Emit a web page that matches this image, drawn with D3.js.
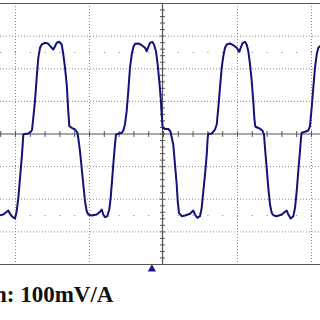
<!DOCTYPE html>
<html>
<head>
<meta charset="utf-8">
<script src="https://cdn.jsdelivr.net/npm/d3@7"></script>
<style>
  html, body { margin: 0; padding: 0; background: #fff; }
  svg { display: block; }
</style>
</head>
<body>
<svg id="scope"></svg>
<script>
// trace, in graticule divisions (0,0 = screen centre)
let timeDiv = [
  -2.203, -2.158, -2.112, -2.091, -2.068, -2.031, -2.000, -1.977, -1.955, -1.932,
  -1.909, -1.896, -1.888, -1.865, -1.820, -1.788, -1.770, -1.753, -1.730, -1.707,
  -1.685, -1.662, -1.639, -1.595, -1.550, -1.504, -1.482, -1.459, -1.436, -1.401,
  -1.369, -1.347, -1.324, -1.301, -1.280, -1.266, -1.234, -1.189, -1.158, -1.145,
  -1.122, -1.099, -1.077, -1.054, -1.031, -1.009, -0.964, -0.896, -0.851, -0.828,
  -0.807, -0.784, -0.753, -0.726, -0.707, -0.689, -0.672, -0.649, -0.635, -0.604,
  -0.558, -0.536, -0.514, -0.491, -0.469, -0.446, -0.423, -0.401, -0.378, -0.334,
  -0.288, -0.243, -0.220, -0.199, -0.176, -0.145, -0.122, -0.095, -0.072, -0.050,
  -0.031, -0.018, -0.004, 0.027, 0.072, 0.101, 0.118, 0.139, 0.162, 0.185,
  0.199, 0.216, 0.253, 0.297, 0.365, 0.409, 0.432, 0.464, 0.500, 0.523,
  0.545, 0.568, 0.591, 0.604, 0.612, 0.658, 0.676, 0.703, 0.726, 0.747,
  0.770, 0.793, 0.815, 0.838, 0.861, 0.905, 0.950, 0.996, 1.031, 1.050,
  1.077, 1.108, 1.131, 1.153, 1.176, 1.199, 1.220, 1.234, 1.247, 1.288,
  1.324, 1.347, 1.365, 1.378, 1.401, 1.423, 1.446, 1.469, 1.491, 1.536,
  1.604, 1.649, 1.672, 1.693, 1.726, 1.761, 1.784, 1.807, 1.828, 1.851,
  1.865, 1.874, 1.919, 1.964, 1.986, 2.009, 2.031, 2.054, 2.077, 2.099,
  2.122, 2.160
];
let ampDiv = [
  -2.504, -2.483, -2.400, -2.360, -2.461, -2.566, -2.605, -2.382, -1.971, -1.358,
  -0.745, -0.337, -0.031, -0.015, 0.000, 0.052, 0.107, 0.481, 0.990, 1.707,
  2.320, 2.627, 2.728, 2.780, 2.749, 2.627, 2.575, 2.676, 2.780, 2.811,
  2.728, 2.421, 2.014, 1.502, 0.684, 0.224, 0.175, 0.123, 0.031, -0.132,
  -0.543, -1.051, -1.563, -2.075, -2.382, -2.483, -2.513, -2.483, -2.400, -2.329,
  -2.483, -2.566, -2.535, -2.329, -1.971, -1.462, -0.950, -0.337, -0.031, -0.009,
  0.021, 0.092, 0.276, 0.684, 1.297, 2.014, 2.421, 2.645, 2.749, 2.759,
  2.706, 2.627, 2.523, 2.645, 2.780, 2.811, 2.728, 2.523, 2.115, 1.603,
  1.094, 0.582, 0.175, 0.138, 0.138, 0.061, -0.123, -0.337, -0.950, -1.563,
  -2.075, -2.431, -2.535, -2.513, -2.461, -2.360, -2.483, -2.584, -2.535, -2.277,
  -1.769, -1.257, -0.644, -0.132, -0.009, 0.000, 0.046, 0.123, 0.276, 0.788,
  1.401, 2.014, 2.369, 2.627, 2.728, 2.759, 2.706, 2.627, 2.504, 2.627,
  2.780, 2.811, 2.728, 2.523, 2.115, 1.603, 0.990, 0.481, 0.215, 0.169,
  0.123, 0.077, -0.031, -0.438, -1.051, -1.664, -2.176, -2.431, -2.504, -2.535,
  -2.483, -2.400, -2.360, -2.483, -2.605, -2.535, -2.277, -1.769, -1.156, -0.543,
  -0.132, 0.021, 0.052, 0.092, 0.224, 0.788, 1.401, 2.014, 2.421, 2.627,
  2.676, 2.730
];

// graticule
let xGridDivs = [-2, -1, 1, 2];
let yGridDivs = [-3, -2, -1, 1, 2, 3];
let dotRowDivs = [-2.5, 2.5];
let triggerDiv = -0.15;
let scaleLabel = "n: 100mV/A";

let width = 320;
let height = 320;

let svg = d3.select("#scope")
    .attr("width", width)
    .attr("height", height);

// screen: 4 divisions from x=15 to x=311, 8 divisions from y=264 to y=3
let x = d3.scaleLinear().domain([-2, 2]).range([15, 311]);
let y = d3.scaleLinear().domain([-4, 4]).range([264, 3]);

let gridColor = "#8c8c8c";
let axisColor = "#555";

// minor tick positions (5 per division)
let xMinor = d3.range(-11, 12).map(d => d / 5);
let yMinor = d3.range(-20, 21).map(d => d / 5);

// dotted grid lines
svg.append("g").selectAll("line")
    .data(xGridDivs)
    .enter().append("line")
        .attr("x1", d => x(d) + 0.5).attr("x2", d => x(d) + 0.5)
        .attr("y1", y(4)).attr("y2", y(-4))
        .attr("stroke", gridColor)
        .attr("stroke-width", 1)
        .attr("stroke-dasharray", "1,2");

svg.append("g").selectAll("line")
    .data(yGridDivs)
    .enter().append("line")
        .attr("x1", 0).attr("x2", width)
        .attr("y1", d => y(d) + 0.5).attr("y2", d => y(d) + 0.5)
        .attr("stroke", gridColor)
        .attr("stroke-width", 1)
        .attr("stroke-dasharray", "1,2");

// rows of single dots at the minor ticks
dotRowDivs.forEach(row => {
    svg.append("g").selectAll("rect")
        .data(xMinor)
        .enter().append("rect")
            .attr("x", d => x(d))
            .attr("y", y(row))
            .attr("width", 1)
            .attr("height", 1)
            .attr("fill", "#777");
});

// frame top and bottom
[4, -4].forEach(v => {
    svg.append("line")
        .attr("x1", 0).attr("x2", width)
        .attr("y1", y(v) + 0.5).attr("y2", y(v) + 0.5)
        .attr("stroke", axisColor)
        .attr("stroke-width", 1.2);
});

// centre axes with minor ticks
svg.append("line")
    .attr("x1", 0).attr("x2", width)
    .attr("y1", y(0) + 0.5).attr("y2", y(0) + 0.5)
    .attr("stroke", axisColor)
    .attr("stroke-width", 1.2);

svg.append("line")
    .attr("x1", x(0) - 0.5).attr("x2", x(0) - 0.5)
    .attr("y1", y(4)).attr("y2", y(-4))
    .attr("stroke", axisColor)
    .attr("stroke-width", 1.2);

svg.append("g").selectAll("line")
    .data(xMinor)
    .enter().append("line")
        .attr("x1", d => x(d) + 0.5).attr("x2", d => x(d) + 0.5)
        .attr("y1", y(0) - 2.5).attr("y2", y(0) + 3.5)
        .attr("stroke", axisColor)
        .attr("stroke-width", 1);

svg.append("g").selectAll("line")
    .data(yMinor)
    .enter().append("line")
        .attr("x1", x(0) - 3).attr("x2", x(0) + 2)
        .attr("y1", d => y(d) + 0.5).attr("y2", d => y(d) + 0.5)
        .attr("stroke", axisColor)
        .attr("stroke-width", 1);

// the trace
let trace = timeDiv.map((t, i) => ({ t: t, v: ampDiv[i] }));

let line = d3.line()
    .x(d => x(d.t))
    .y(d => y(d.v));

svg.append("path")
    .datum(trace)
    .attr("fill", "none")
    .attr("stroke", "#12127a")
    .attr("stroke-width", 2)
    .attr("stroke-linejoin", "round")
    .attr("d", line);

// trigger marker under the screen
svg.append("path")
    .attr("d", d3.symbol().type(d3.symbolTriangle).size(30))
    .attr("transform", "translate(" + x(triggerDiv) + "," + (y(-4) + 5) + ")")
    .attr("fill", "#1a1a8c");

// probe scale text (cut at the left edge, as in the original crop)
svg.append("text")
    .attr("x", -6)
    .attr("y", 302)
    .attr("font-family", "'Liberation Serif', 'Times New Roman', serif")
    .attr("font-weight", "bold")
    .attr("font-size", 23)
    .attr("fill", "#111")
    .text(scaleLabel);
</script>
</body>
</html>
